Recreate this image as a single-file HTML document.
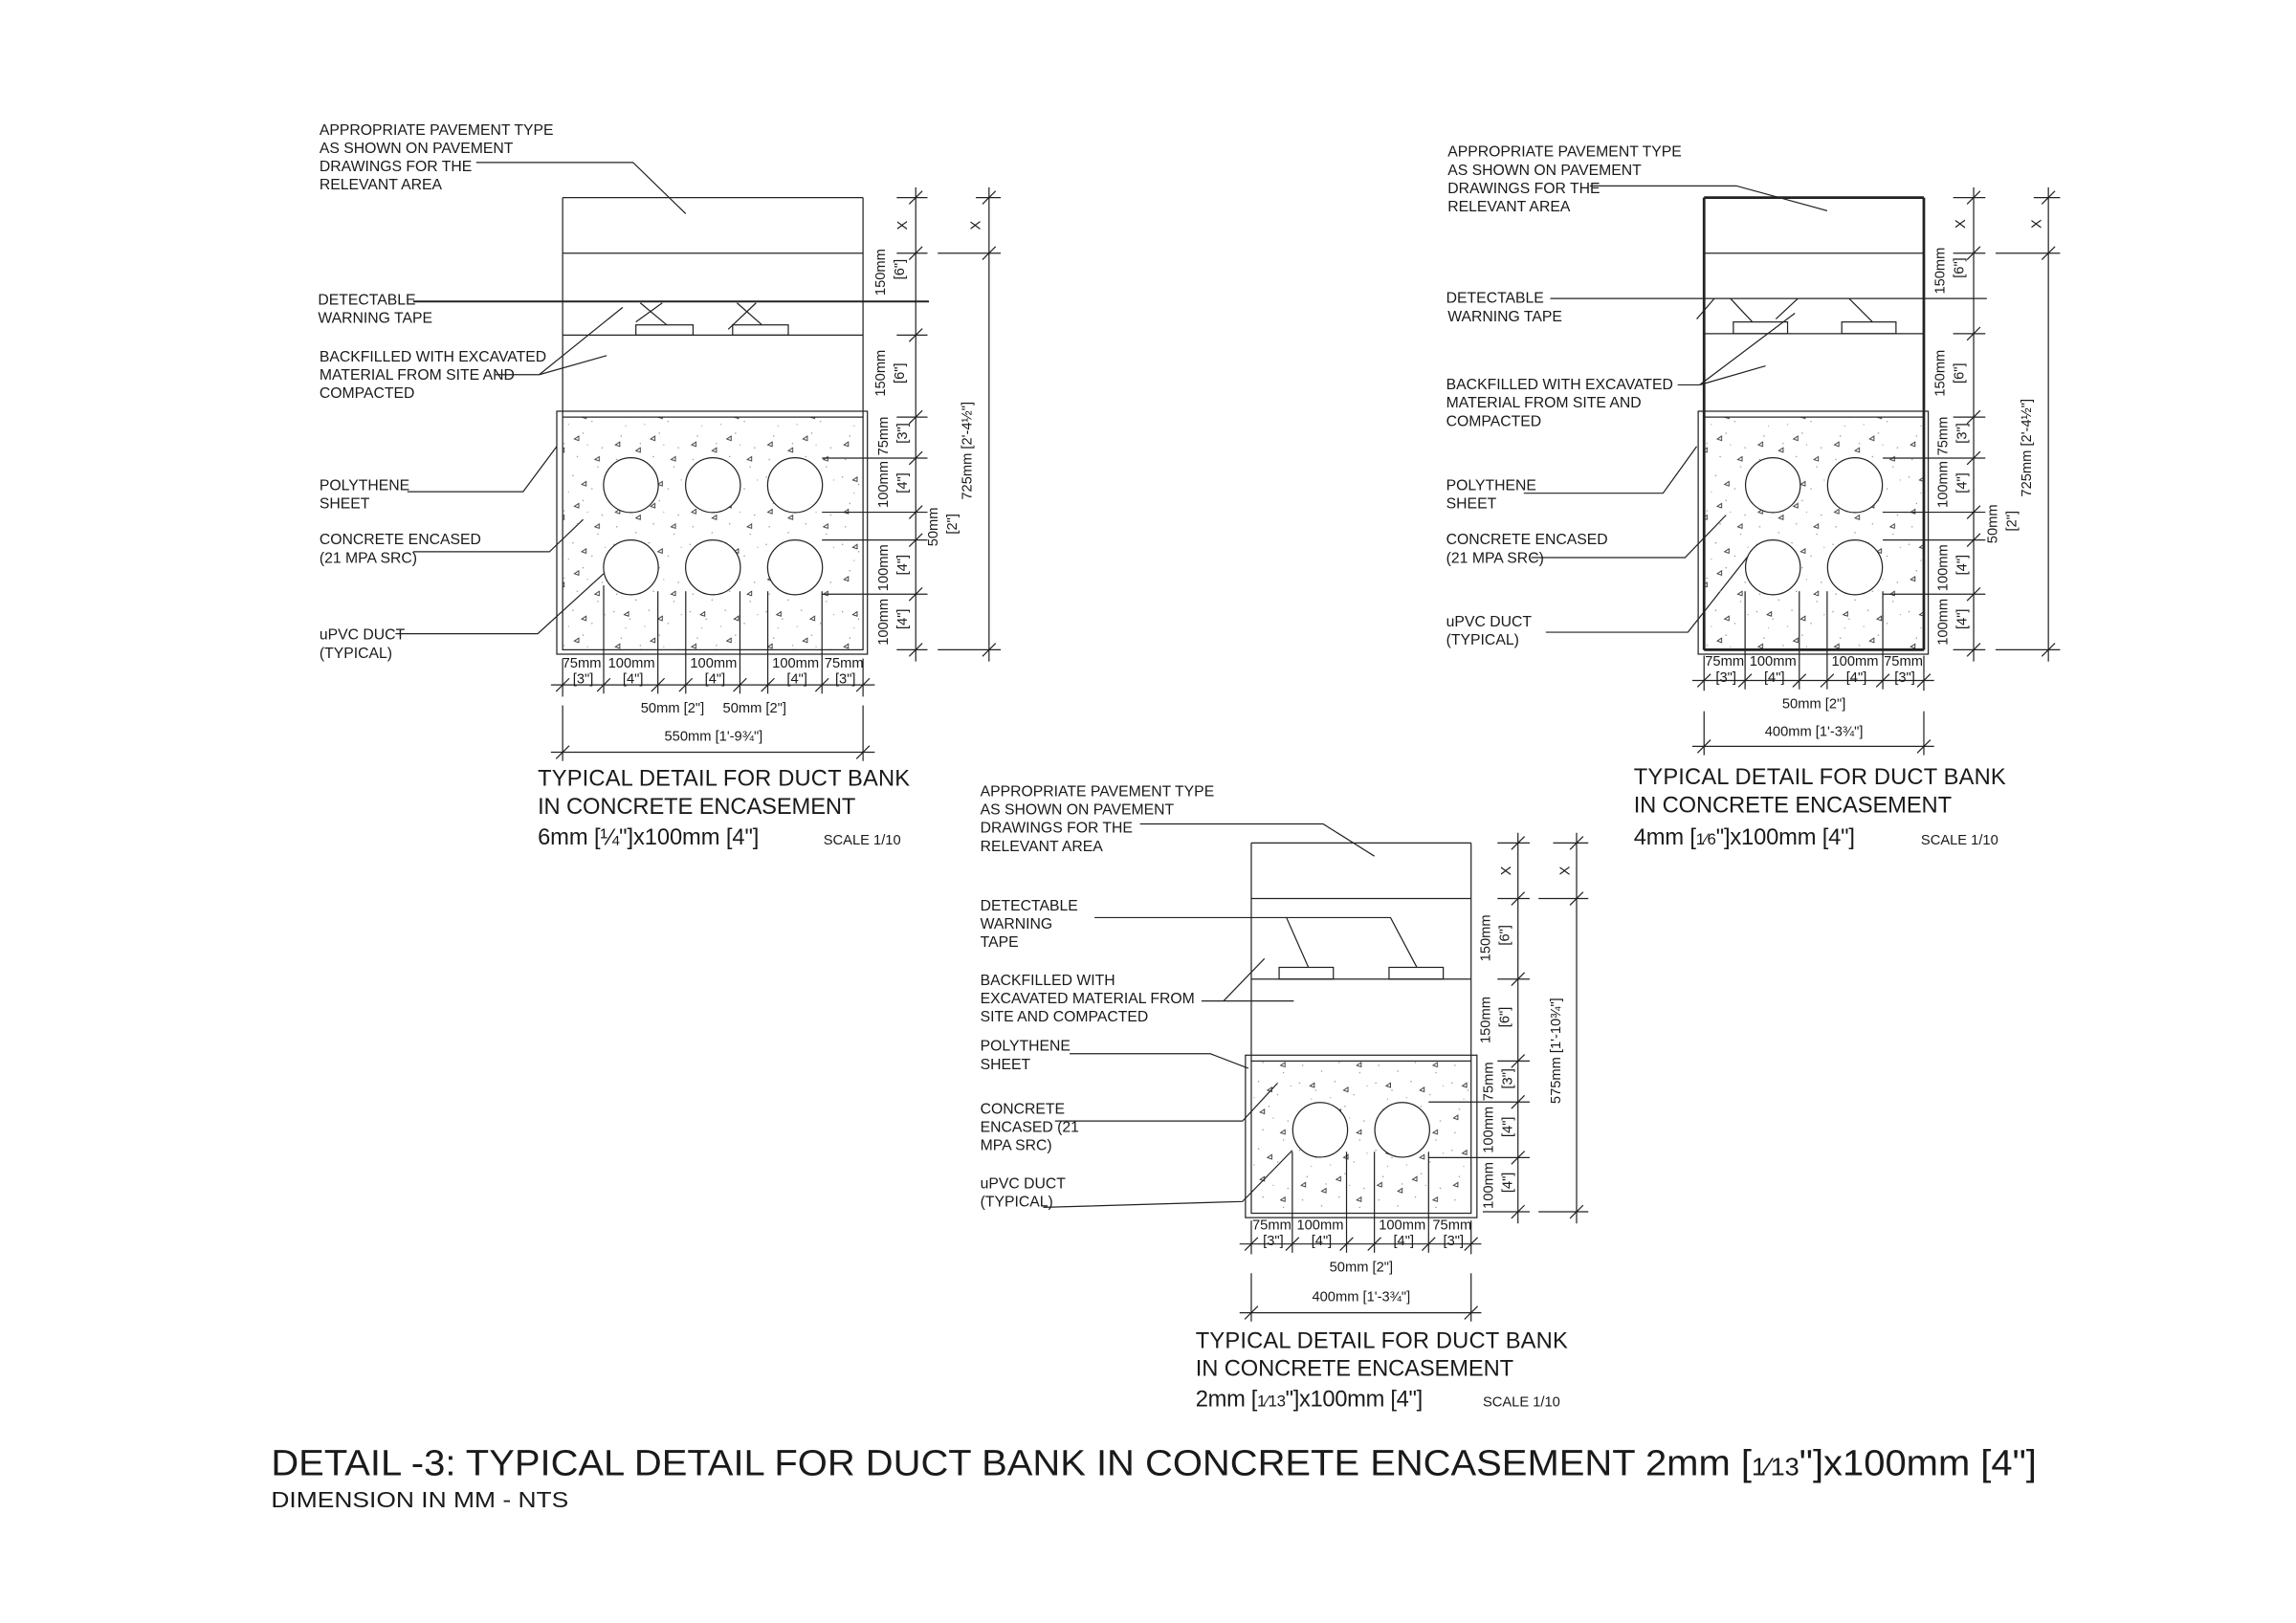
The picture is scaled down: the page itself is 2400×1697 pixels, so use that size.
<!DOCTYPE html>
<html><head><meta charset="utf-8"><style>
html,body{margin:0;padding:0;background:#fff}
svg{display:block}
text{font-family:"Liberation Sans",Arial,sans-serif;fill:#1a1a1a}
.l{font-size:10.3px}
.d{font-size:9.6px;text-anchor:middle}
.c{font-size:15.5px}
line,polyline,rect,circle,path{stroke:#222;fill:none;stroke-width:0.8}
</style></head><body>
<svg width="2400" height="1697" viewBox="0 0 1567 1109" preserveAspectRatio="none" xmlns="http://www.w3.org/2000/svg">
<defs>
<pattern id="st" width="52" height="46" patternUnits="userSpaceOnUse">
<g fill="#777" stroke="none">
<circle cx="3" cy="4" r=".45" style="fill:#888;stroke:none"/><circle cx="14" cy="9" r=".45" style="fill:#888;stroke:none"/>
<circle cx="27" cy="3" r=".45" style="fill:#888;stroke:none"/><circle cx="40" cy="12" r=".45" style="fill:#888;stroke:none"/>
<circle cx="8" cy="22" r=".45" style="fill:#888;stroke:none"/><circle cx="21" cy="27" r=".45" style="fill:#888;stroke:none"/>
<circle cx="34" cy="20" r=".45" style="fill:#888;stroke:none"/><circle cx="47" cy="30" r=".45" style="fill:#888;stroke:none"/>
<circle cx="5" cy="38" r=".45" style="fill:#888;stroke:none"/><circle cx="18" cy="42" r=".45" style="fill:#888;stroke:none"/>
<circle cx="30" cy="36" r=".45" style="fill:#888;stroke:none"/><circle cx="44" cy="43" r=".45" style="fill:#888;stroke:none"/>
<circle cx="11" cy="15" r=".4" style="fill:#999;stroke:none"/><circle cx="37" cy="28" r=".4" style="fill:#999;stroke:none"/>
<circle cx="24" cy="14" r=".4" style="fill:#999;stroke:none"/><circle cx="49" cy="6" r=".4" style="fill:#999;stroke:none"/>
</g>
<path d="M10 6 l3 -2 l0 3 z M33 9 l3 -2 l0 3 z M18 32 l3 -2 l0 3 z M42 38 l3 -2 l0 3 z M4 28 l3 -2 l0 3 z M28 24 l3 -2 l0 3 z" style="stroke:#333;stroke-width:.6;fill:none"/>
</pattern>
<line id="tk" x1="-4.5" y1="4.5" x2="4.5" y2="-4.5"/>
</defs>

<!-- ================= DETAIL 1 ================= -->
<g>
<text class="l" x="218" y="92">APPROPRIATE PAVEMENT TYPE</text>
<text class="l" x="218" y="104.5">AS SHOWN ON PAVEMENT</text>
<text class="l" x="218" y="117">DRAWINGS  FOR THE</text>
<text class="l" x="218" y="129.5">RELEVANT AREA</text>
<polyline points="325,111 432,111 468,146"/>
<text class="l" x="217" y="208">DETECTABLE</text>
<text class="l" x="217" y="220.5">WARNING TAPE</text>
<text class="l" x="218" y="247">BACKFILLED WITH EXCAVATED</text>
<text class="l" x="218" y="259.5">MATERIAL FROM SITE AND</text>
<text class="l" x="218" y="272">COMPACTED</text>
<polyline points="338,256 368,256 425,210"/><line x1="368" y1="256" x2="414" y2="243"/>
<text class="l" x="218" y="335">POLYTHENE</text><text class="l" x="218" y="347.5">SHEET</text>
<polyline points="278,336 357,336 380,305"/>
<text class="l" x="218" y="372">CONCRETE ENCASED</text><text class="l" x="218" y="384.5">(21 MPA SRC)</text>
<polyline points="282,377 375,377 398,355"/>
<text class="l" x="218" y="437">uPVC DUCT</text><text class="l" x="218" y="449.5">(TYPICAL)</text>
<polyline points="270,433 367,433 412,392"/>

<line x1="384" y1="135" x2="589" y2="135"/><line x1="384" y1="173" x2="589" y2="173"/>
<line x1="384" y1="135" x2="384" y2="285"/><line x1="589" y1="135" x2="589" y2="285"/>
<line x1="282" y1="206" x2="634" y2="206" style="stroke-width:1.3"/>
<line x1="384" y1="229" x2="589" y2="229"/>
<rect x="434" y="222" width="39" height="7"/><rect x="500" y="222" width="38" height="7"/>
<line x1="437" y1="207" x2="455" y2="222"/><line x1="452" y1="207" x2="434" y2="220"/>
<line x1="503" y1="207" x2="520" y2="222"/><line x1="516" y1="207" x2="497" y2="225"/>
<rect x="380" y="281" width="212" height="166"/>
<rect x="384" y="285" width="205" height="159" style="fill:url(#st)"/>
<circle cx="430.6" cy="331.5" r="18.7" style="fill:#fff"/><circle cx="486.6" cy="331.5" r="18.7" style="fill:#fff"/><circle cx="542.6" cy="331.5" r="18.7" style="fill:#fff"/>
<circle cx="430.6" cy="387.7" r="18.7" style="fill:#fff"/><circle cx="486.6" cy="387.7" r="18.7" style="fill:#fff"/><circle cx="542.6" cy="387.7" r="18.7" style="fill:#fff"/>
<line x1="561" y1="313" x2="633" y2="313"/><line x1="561" y1="350" x2="633" y2="350"/>
<line x1="561" y1="369" x2="633" y2="369"/><line x1="561" y1="406" x2="633" y2="406"/>
<line x1="412" y1="400" x2="412" y2="474"/><line x1="449" y1="404" x2="449" y2="474"/>
<line x1="468" y1="404" x2="468" y2="474"/><line x1="505" y1="404" x2="505" y2="474"/>
<line x1="524" y1="404" x2="524" y2="474"/><line x1="561" y1="404" x2="561" y2="474"/>
<line x1="625" y1="128" x2="625" y2="452"/>
<line x1="612" y1="135" x2="633" y2="135"/><line x1="612" y1="173" x2="633" y2="173"/>
<line x1="612" y1="229" x2="633" y2="229"/><line x1="612" y1="285" x2="633" y2="285"/>
<line x1="612" y1="444" x2="633" y2="444"/>
<use href="#tk" x="625" y="135"/><use href="#tk" x="625" y="173"/><use href="#tk" x="625" y="229"/><use href="#tk" x="625" y="285"/>
<use href="#tk" x="625" y="313"/><use href="#tk" x="625" y="350"/><use href="#tk" x="625" y="369"/><use href="#tk" x="625" y="406"/><use href="#tk" x="625" y="444"/>
<line x1="675" y1="128" x2="675" y2="452"/>
<line x1="666" y1="135" x2="683" y2="135"/><line x1="640" y1="173" x2="683" y2="173"/><line x1="640" y1="444" x2="683" y2="444"/>
<use href="#tk" x="675" y="135"/><use href="#tk" x="675" y="173"/><use href="#tk" x="675" y="444"/>
<text class="d" transform="translate(619,154) rotate(-90)">X</text>
<text class="d" transform="translate(669,154) rotate(-90)">X</text>
<text class="d" transform="translate(604,186) rotate(-90)">150mm</text><text class="d" transform="translate(617,184) rotate(-90)">[6"]</text>
<text class="d" transform="translate(604,255) rotate(-90)">150mm</text><text class="d" transform="translate(617,255) rotate(-90)">[6"]</text>
<text class="d" transform="translate(606,298) rotate(-90)">75mm</text><text class="d" transform="translate(619,296) rotate(-90)">[3"]</text>
<text class="d" transform="translate(606,331) rotate(-90)">100mm</text><text class="d" transform="translate(619,330) rotate(-90)">[4"]</text>
<text class="d" transform="translate(640,360) rotate(-90)">50mm</text><text class="d" transform="translate(653,358) rotate(-90)">[2"]</text>
<text class="d" transform="translate(606,388) rotate(-90)">100mm</text><text class="d" transform="translate(619,386) rotate(-90)">[4"]</text>
<text class="d" transform="translate(606,425) rotate(-90)">100mm</text><text class="d" transform="translate(619,423) rotate(-90)">[4"]</text>
<text class="d" transform="translate(663,308) rotate(-90)">725mm [2'-4½"]</text>
<line x1="376" y1="468" x2="597" y2="468"/>
<line x1="384" y1="450" x2="384" y2="476"/><line x1="589" y1="450" x2="589" y2="476"/>
<use href="#tk" x="384" y="468"/><use href="#tk" x="412" y="468"/><use href="#tk" x="449" y="468"/><use href="#tk" x="468" y="468"/>
<use href="#tk" x="505" y="468"/><use href="#tk" x="524" y="468"/><use href="#tk" x="561" y="468"/><use href="#tk" x="589" y="468"/>
<text class="d" x="397" y="456">75mm</text><text class="d" x="398" y="467">[3"]</text>
<text class="d" x="431" y="456">100mm</text><text class="d" x="432" y="467">[4"]</text>
<text class="d" x="487" y="456">100mm</text><text class="d" x="488" y="467">[4"]</text>
<text class="d" x="543" y="456">100mm</text><text class="d" x="544" y="467">[4"]</text>
<text class="d" x="576" y="456">75mm</text><text class="d" x="577" y="467">[3"]</text>
<text class="d" x="459" y="487">50mm [2"]</text><text class="d" x="515" y="487">50mm [2"]</text>
<line x1="376" y1="514" x2="597" y2="514"/>
<line x1="384" y1="482" x2="384" y2="520"/><line x1="589" y1="482" x2="589" y2="520"/>
<use href="#tk" x="384" y="514"/><use href="#tk" x="589" y="514"/>
<text class="d" x="487" y="506">550mm [1'-9¾"]</text>
<text class="c" x="367" y="537" textLength="254">TYPICAL DETAIL FOR DUCT BANK</text>
<text class="c" x="367" y="556" textLength="217">IN CONCRETE ENCASEMENT</text>
<text class="c" x="367" y="577" textLength="151">6mm [¼"]x100mm [4"]</text>
<text style="font-size:9.6px" x="562" y="577">SCALE 1/10</text>
</g>

<!-- ================= DETAIL 2 ================= -->
<g>
<text class="l" x="988" y="107">APPROPRIATE PAVEMENT TYPE</text>
<text class="l" x="988" y="119.5">AS SHOWN ON PAVEMENT</text>
<text class="l" x="988" y="132">DRAWINGS  FOR THE</text>
<text class="l" x="988" y="144.5">RELEVANT AREA</text>
<polyline points="1085,127 1185,127 1247,144"/>
<text class="l" x="987" y="207">DETECTABLE</text>
<text class="l" x="988" y="219.5">WARNING TAPE</text>
<text class="l" x="987" y="266">BACKFILLED WITH EXCAVATED</text>
<text class="l" x="987" y="278.5">MATERIAL FROM SITE AND</text>
<text class="l" x="987" y="291">COMPACTED</text>
<polyline points="1145,263 1160,263 1225,214"/><line x1="1160" y1="263" x2="1205" y2="250"/>
<text class="l" x="987" y="335">POLYTHENE</text><text class="l" x="987" y="347.5">SHEET</text>
<polyline points="1040,337 1135,337 1158,305"/>
<text class="l" x="987" y="372">CONCRETE ENCASED</text><text class="l" x="987" y="384.5">(21 MPA SRC)</text>
<polyline points="1045,381 1150,381 1178,352"/>
<text class="l" x="987" y="428">uPVC DUCT</text><text class="l" x="987" y="440.5">(TYPICAL)</text>
<polyline points="1055,432 1152,432 1193,380"/>

<line x1="1163" y1="135" x2="1313" y2="135" style="stroke-width:1.8"/>
<line x1="1163" y1="135" x2="1163" y2="444" style="stroke-width:1.8"/>
<line x1="1313" y1="135" x2="1313" y2="444" style="stroke-width:1.8"/>
<line x1="1163" y1="173" x2="1313" y2="173"/>
<line x1="1058" y1="204" x2="1356" y2="204"/>
<line x1="1163" y1="228" x2="1313" y2="228"/>
<rect x="1183" y="220" width="37" height="8"/><rect x="1257" y="220" width="37" height="8"/>
<line x1="1170" y1="204" x2="1158" y2="218"/><line x1="1181" y1="204" x2="1196" y2="220"/>
<line x1="1227" y1="204" x2="1212" y2="218"/><line x1="1262" y1="204" x2="1278" y2="220"/>
<rect x="1159" y="281" width="157" height="166"/>
<rect x="1163" y="285" width="150" height="159" style="fill:url(#st)"/>
<line x1="1163" y1="444" x2="1313" y2="444" style="stroke-width:1.8"/>
<circle cx="1210" cy="331.5" r="18.7" style="fill:#fff"/><circle cx="1266" cy="331.5" r="18.7" style="fill:#fff"/>
<circle cx="1210" cy="387.7" r="18.7" style="fill:#fff"/><circle cx="1266" cy="387.7" r="18.7" style="fill:#fff"/>
<line x1="1285" y1="313" x2="1355" y2="313"/><line x1="1285" y1="350" x2="1355" y2="350"/>
<line x1="1285" y1="369" x2="1355" y2="369"/><line x1="1285" y1="406" x2="1355" y2="406"/>
<line x1="1191" y1="404" x2="1191" y2="471"/><line x1="1228" y1="404" x2="1228" y2="471"/>
<line x1="1247" y1="404" x2="1247" y2="471"/><line x1="1285" y1="404" x2="1285" y2="471"/>
<line x1="1347" y1="128" x2="1347" y2="452"/>
<line x1="1333" y1="135" x2="1355" y2="135"/><line x1="1333" y1="173" x2="1355" y2="173"/>
<line x1="1333" y1="228" x2="1355" y2="228"/><line x1="1333" y1="285" x2="1355" y2="285"/><line x1="1333" y1="444" x2="1355" y2="444"/>
<use href="#tk" x="1347" y="135"/><use href="#tk" x="1347" y="173"/><use href="#tk" x="1347" y="228"/><use href="#tk" x="1347" y="285"/>
<use href="#tk" x="1347" y="313"/><use href="#tk" x="1347" y="350"/><use href="#tk" x="1347" y="369"/><use href="#tk" x="1347" y="406"/><use href="#tk" x="1347" y="444"/>
<line x1="1398" y1="128" x2="1398" y2="452"/>
<line x1="1388" y1="135" x2="1406" y2="135"/><line x1="1362" y1="173" x2="1406" y2="173"/><line x1="1362" y1="444" x2="1406" y2="444"/>
<use href="#tk" x="1398" y="135"/><use href="#tk" x="1398" y="173"/><use href="#tk" x="1398" y="444"/>
<text class="d" transform="translate(1341,153) rotate(-90)">X</text>
<text class="d" transform="translate(1393,153) rotate(-90)">X</text>
<text class="d" transform="translate(1327,185) rotate(-90)">150mm</text><text class="d" transform="translate(1340,183) rotate(-90)">[6"]</text>
<text class="d" transform="translate(1327,255) rotate(-90)">150mm</text><text class="d" transform="translate(1340,255) rotate(-90)">[6"]</text>
<text class="d" transform="translate(1329,298) rotate(-90)">75mm</text><text class="d" transform="translate(1342,296) rotate(-90)">[3"]</text>
<text class="d" transform="translate(1329,331) rotate(-90)">100mm</text><text class="d" transform="translate(1342,330) rotate(-90)">[4"]</text>
<text class="d" transform="translate(1363,358) rotate(-90)">50mm</text><text class="d" transform="translate(1376,356) rotate(-90)">[2"]</text>
<text class="d" transform="translate(1329,388) rotate(-90)">100mm</text><text class="d" transform="translate(1342,386) rotate(-90)">[4"]</text>
<text class="d" transform="translate(1329,425) rotate(-90)">100mm</text><text class="d" transform="translate(1342,423) rotate(-90)">[4"]</text>
<text class="d" transform="translate(1386,306) rotate(-90)">725mm [2'-4½"]</text>
<line x1="1155" y1="465" x2="1320" y2="465"/>
<line x1="1163" y1="448" x2="1163" y2="472"/><line x1="1313" y1="448" x2="1313" y2="472"/>
<use href="#tk" x="1163" y="465"/><use href="#tk" x="1191" y="465"/><use href="#tk" x="1228" y="465"/><use href="#tk" x="1247" y="465"/>
<use href="#tk" x="1285" y="465"/><use href="#tk" x="1313" y="465"/>
<text class="d" x="1177" y="455">75mm</text><text class="d" x="1178" y="466">[3"]</text>
<text class="d" x="1210" y="455">100mm</text><text class="d" x="1211" y="466">[4"]</text>
<text class="d" x="1266" y="455">100mm</text><text class="d" x="1267" y="466">[4"]</text>
<text class="d" x="1299" y="455">75mm</text><text class="d" x="1300" y="466">[3"]</text>
<text class="d" x="1238" y="484">50mm [2"]</text>
<line x1="1155" y1="510" x2="1320" y2="510"/>
<line x1="1163" y1="486" x2="1163" y2="516"/><line x1="1313" y1="486" x2="1313" y2="516"/>
<use href="#tk" x="1163" y="510"/><use href="#tk" x="1313" y="510"/>
<text class="d" x="1238" y="503">400mm [1'-3¾"]</text>
<text class="c" x="1115" y="536" textLength="254">TYPICAL DETAIL FOR DUCT BANK</text>
<text class="c" x="1115" y="555" textLength="217">IN CONCRETE ENCASEMENT</text>
<text class="c" x="1115" y="577" textLength="151">4mm [<tspan style="font-size:11px">1⁄6</tspan>"]x100mm [4"]</text>
<text style="font-size:9.6px" x="1311" y="577">SCALE 1/10</text>
</g>

<!-- ================= DETAIL 3 ================= -->
<g>
<text class="l" x="669" y="544">APPROPRIATE PAVEMENT TYPE</text>
<text class="l" x="669" y="556.5">AS SHOWN ON PAVEMENT</text>
<text class="l" x="669" y="569">DRAWINGS  FOR THE</text>
<text class="l" x="669" y="581.5">RELEVANT AREA</text>
<polyline points="778,563 903,563 938,585"/>
<text class="l" x="669" y="622">DETECTABLE</text>
<text class="l" x="669" y="634.5">WARNING</text>
<text class="l" x="669" y="647">TAPE</text>
<polyline points="747,627 878,627 893,661"/><polyline points="878,627 949,627 967,661"/>
<text class="l" x="669" y="673">BACKFILLED WITH</text>
<text class="l" x="669" y="685.5">EXCAVATED MATERIAL FROM</text>
<text class="l" x="669" y="698">SITE AND  COMPACTED</text>
<line x1="820" y1="684" x2="883" y2="684"/><line x1="835" y1="684" x2="863" y2="655"/>
<text class="l" x="669" y="718">POLYTHENE</text><text class="l" x="669" y="730.5">SHEET</text>
<polyline points="730,720 826,720 852,730"/>
<text class="l" x="669" y="761">CONCRETE</text><text class="l" x="669" y="773.5">ENCASED (21</text><text class="l" x="669" y="786">MPA SRC)</text>
<polyline points="720,766 848,766 872,740"/>
<text class="l" x="669" y="812">uPVC DUCT</text><text class="l" x="669" y="824.5">(TYPICAL)</text>
<polyline points="712,825 848,821 882,786"/>

<line x1="854" y1="576" x2="1004" y2="576"/><line x1="854" y1="614" x2="1004" y2="614"/>
<line x1="854" y1="576" x2="854" y2="725"/><line x1="1004" y1="576" x2="1004" y2="725"/>
<line x1="854" y1="669" x2="1004" y2="669"/>
<rect x="873" y="661" width="37" height="8"/><rect x="948" y="661" width="37" height="8"/>
<rect x="850" y="721" width="158" height="111"/>
<rect x="854" y="725" width="150" height="104" style="fill:url(#st)"/>
<circle cx="901" cy="772" r="18.7" style="fill:#fff"/><circle cx="957" cy="772" r="18.7" style="fill:#fff"/>
<line x1="975" y1="753" x2="1044" y2="753"/><line x1="975" y1="791" x2="1044" y2="791"/>
<line x1="882" y1="787" x2="882" y2="856"/><line x1="919" y1="787" x2="919" y2="856"/>
<line x1="938" y1="787" x2="938" y2="856"/><line x1="975" y1="787" x2="975" y2="856"/>
<line x1="1036" y1="569" x2="1036" y2="836"/>
<line x1="1022" y1="576" x2="1044" y2="576"/><line x1="1022" y1="614" x2="1044" y2="614"/>
<line x1="1022" y1="669" x2="1044" y2="669"/><line x1="1022" y1="725" x2="1044" y2="725"/><line x1="1012" y1="828" x2="1044" y2="828"/>
<use href="#tk" x="1036" y="576"/><use href="#tk" x="1036" y="614"/><use href="#tk" x="1036" y="669"/><use href="#tk" x="1036" y="725"/>
<use href="#tk" x="1036" y="753"/><use href="#tk" x="1036" y="791"/><use href="#tk" x="1036" y="828"/>
<line x1="1076" y1="569" x2="1076" y2="836"/>
<line x1="1060" y1="576" x2="1084" y2="576"/><line x1="1050" y1="614" x2="1084" y2="614"/><line x1="1050" y1="828" x2="1084" y2="828"/>
<use href="#tk" x="1076" y="576"/><use href="#tk" x="1076" y="614"/><use href="#tk" x="1076" y="828"/>
<text class="d" transform="translate(1031,595) rotate(-90)">X</text>
<text class="d" transform="translate(1071,595) rotate(-90)">X</text>
<text class="d" transform="translate(1017,641) rotate(-90)">150mm</text><text class="d" transform="translate(1030,639) rotate(-90)">[6"]</text>
<text class="d" transform="translate(1017,697) rotate(-90)">150mm</text><text class="d" transform="translate(1030,695) rotate(-90)">[6"]</text>
<text class="d" transform="translate(1019,739) rotate(-90)">75mm</text><text class="d" transform="translate(1032,737) rotate(-90)">[3"]</text>
<text class="d" transform="translate(1019,772) rotate(-90)">100mm</text><text class="d" transform="translate(1032,770) rotate(-90)">[4"]</text>
<text class="d" transform="translate(1019,810) rotate(-90)">100mm</text><text class="d" transform="translate(1032,808) rotate(-90)">[4"]</text>
<text class="d" transform="translate(1065,718) rotate(-90)">575mm [1'-10¾"]</text>
<line x1="846" y1="850" x2="1011" y2="850"/>
<line x1="854" y1="834" x2="854" y2="857"/><line x1="1004" y1="834" x2="1004" y2="857"/>
<use href="#tk" x="854" y="850"/><use href="#tk" x="882" y="850"/><use href="#tk" x="919" y="850"/><use href="#tk" x="938" y="850"/>
<use href="#tk" x="975" y="850"/><use href="#tk" x="1004" y="850"/>
<text class="d" x="868" y="840">75mm</text><text class="d" x="869" y="851">[3"]</text>
<text class="d" x="901" y="840">100mm</text><text class="d" x="902" y="851">[4"]</text>
<text class="d" x="957" y="840">100mm</text><text class="d" x="958" y="851">[4"]</text>
<text class="d" x="991" y="840">75mm</text><text class="d" x="992" y="851">[3"]</text>
<text class="d" x="929" y="869">50mm [2"]</text>
<line x1="846" y1="897" x2="1011" y2="897"/>
<line x1="854" y1="870" x2="854" y2="903"/><line x1="1004" y1="870" x2="1004" y2="903"/>
<use href="#tk" x="854" y="897"/><use href="#tk" x="1004" y="897"/>
<text class="d" x="929" y="889">400mm [1'-3¾"]</text>
<text class="c" x="816" y="921" textLength="254">TYPICAL DETAIL FOR DUCT BANK</text>
<text class="c" x="816" y="940" textLength="217">IN CONCRETE ENCASEMENT</text>
<text class="c" x="816" y="961" textLength="155">2mm [<tspan style="font-size:11px">1⁄13</tspan>"]x100mm [4"]</text>
<text style="font-size:9.6px" x="1012" y="961">SCALE 1/10</text>
</g>

<!-- TITLE -->
<text x="185" y="1008" style="font-size:25px" textLength="1205" lengthAdjust="spacingAndGlyphs">DETAIL -3: TYPICAL DETAIL FOR DUCT BANK IN CONCRETE ENCASEMENT 2mm [<tspan style="font-size:17px">1⁄13</tspan>"]x100mm [4"]</text>
<text x="185" y="1030" style="font-size:15px" textLength="203" lengthAdjust="spacingAndGlyphs">DIMENSION IN MM - NTS</text>
</svg>
</body></html>
